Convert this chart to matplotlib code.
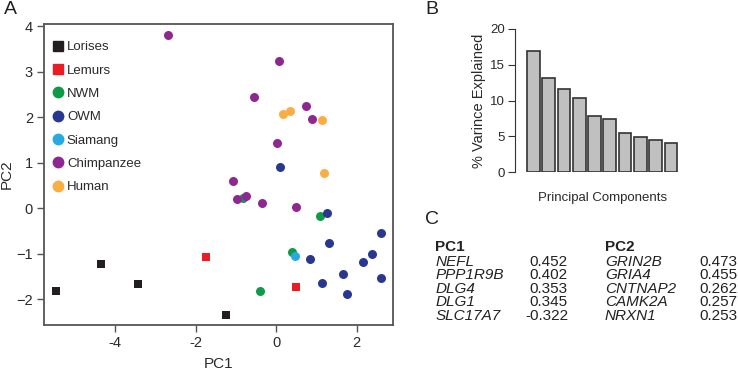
import matplotlib
matplotlib.use('Agg')
import matplotlib.pyplot as plt
from matplotlib.lines import Line2D

plt.rcParams['font.family'] = ['Liberation Sans', 'DejaVu Sans']

# ---- panel A data (PC1, PC2 scores per group)
groups = ['Lorises', 'Lemurs', 'NWM', 'OWM', 'Siamang', 'Chimpanzee', 'Human']
colors = ['#231f20', '#ec1c24', '#0f9a48', '#283891', '#27aae1', '#8e278f', '#fbad45']
markers = ['s', 's', 'o', 'o', 'o', 'o', 'o']

lorises_pc1 = [-5.45, -4.34, -3.43, -1.25]
lorises_pc2 = [-1.82, -1.21, -1.67, -2.34]
lemurs_pc1 = [-1.73, 0.50]
lemurs_pc2 = [-1.06, -1.73]
nwm_pc1 = [-0.83, 1.08, 0.39, -0.40]
nwm_pc2 = [0.22, -0.17, -0.96, -1.81]
owm_pc1 = [0.10, 1.27, 2.61, 1.32, 0.84, 2.38, 2.15, 1.67, 2.60, 1.14, 1.76]
owm_pc2 = [0.91, -0.09, -0.53, -0.76, -1.11, -0.99, -1.18, -1.45, -1.53, -1.64, -1.89]
siamang_pc1 = [0.46]
siamang_pc2 = [-1.04]
chimp_pc1 = [-2.69, 0.08, -0.54, 0.75, 0.90, 0.03, -1.07, -0.96, -0.74, -0.36, 0.50]
chimp_pc2 = [3.81, 3.23, 2.44, 2.24, 1.97, 1.43, 0.61, 0.20, 0.27, 0.13, 0.03]
human_pc1 = [0.17, 0.34, 1.13, 1.20]
human_pc2 = [2.08, 2.13, 1.95, 0.77]

# ---- panel B data
var_explained = [16.9, 13.1, 11.55, 10.4, 7.9, 7.45, 5.5, 4.9, 4.45, 4.1]

# ---- panel C data
pc1_genes = ['NEFL', 'PPP1R9B', 'DLG4', 'DLG1', 'SLC17A7']
pc1_loadings = ['0.452', '0.402', '0.353', '0.345', '-0.322']
pc2_genes = ['GRIN2B', 'GRIA4', 'CNTNAP2', 'CAMK2A', 'NRXN1']
pc2_loadings = ['0.473', '0.455', '0.262', '0.257', '0.253']

W, H = 738, 374
fig = plt.figure(figsize=(W / 100, H / 100), dpi=100)

def fx(px):
    return px / W

def fy(py):
    return 1 - py / H

spine_col = '#555555'
txt_col = '#2a2a2a'

# ---------------- A
ax = fig.add_axes([fx(44), fy(325), fx(393) - fx(44), fy(24) - fy(325)])
xs = [lorises_pc1, lemurs_pc1, nwm_pc1, owm_pc1, siamang_pc1, chimp_pc1, human_pc1]
ys = [lorises_pc2, lemurs_pc2, nwm_pc2, owm_pc2, siamang_pc2, chimp_pc2, human_pc2]
for x, y, c, m in zip(xs, ys, colors, markers):
    ax.scatter(x, y, c=c, marker=m, s=30 if m == 's' else 42, linewidths=0, zorder=3)
ax.set_xlim(-5.76, 2.9)
ax.set_ylim(-2.56, 4.05)
ax.set_xticks([-4, -2, 0, 2])
ax.set_yticks([-2, -1, 0, 1, 2, 3, 4])
ax.set_xticklabels(['-4', '-2', '0', '2'])
ax.tick_params(direction='out', length=5, width=1, color=spine_col, labelsize=10.5, pad=3,
               labelcolor=txt_col)
for s in ax.spines.values():
    s.set_color(spine_col)
    s.set_linewidth(1.3)
ax.set_xlabel('PC1', fontsize=11, color=txt_col, labelpad=5)
ax.set_ylabel('PC2', fontsize=11, color=txt_col, labelpad=2)

handles = [Line2D([], [], linestyle='none', marker=m, color=c, markersize=7.5 if m == 'o' else 6.5)
           for c, m in zip(colors, markers)]
ax.legend(handles, groups, loc='upper left', bbox_to_anchor=(0.007, 0.965), frameon=False,
          fontsize=9.5, handlelength=0.7, handletextpad=0.35, labelspacing=0.84, borderpad=0,
          labelcolor=txt_col)

fig.text(fx(4), fy(10), 'A', fontsize=14, va='center', ha='left', color='#222222')

# ---------------- B
bx = fig.add_axes([fx(515), fy(172.3), fx(690) - fx(515), fy(28.7) - fy(172.3)])
pos = list(range(len(var_explained)))
bx.bar(pos, var_explained, width=0.83, color='#c0c0c0', edgecolor='#333333', linewidth=1.2)
bx.set_xlim(-1.2, 10.24)
bx.set_ylim(0, 20)
bx.set_yticks([0, 5, 10, 15, 20])
bx.set_xticks([])
for k in ['top', 'right', 'bottom']:
    bx.spines[k].set_visible(False)
bx.spines['left'].set_color('#333333')
bx.tick_params(axis='y', direction='out', length=5, color='#333333', labelsize=9.5, pad=2,
               labelcolor=txt_col)
bx.set_ylabel('% Varince Explained', fontsize=10.5, color=txt_col, labelpad=3)
bx.set_xlabel('Principal Components', fontsize=9.5, color=txt_col, labelpad=14)

fig.text(fx(425), fy(10), 'B', fontsize=14, va='center', ha='left', color='#222222')

# ---------------- C
fig.text(fx(425), fy(220), 'C', fontsize=14, va='center', ha='left', color='#222222')
fs = 11
fig.text(fx(435), fy(247), 'PC1', fontsize=fs, fontweight='bold', va='center', color='#222222')
fig.text(fx(605), fy(247), 'PC2', fontsize=fs, fontweight='bold', va='center', color='#222222')
for i in range(len(pc1_genes)):
    yy = fy(261.7 + i * 13.6)
    fig.text(fx(436), yy, pc1_genes[i], fontsize=fs, style='italic', va='center', color='#222222')
    fig.text(fx(568), yy, pc1_loadings[i], fontsize=fs, va='center', ha='right', color='#222222')
    fig.text(fx(605), yy, pc2_genes[i], fontsize=fs, style='italic', va='center', color='#222222')
    fig.text(fx(737), yy, pc2_loadings[i], fontsize=fs, va='center', ha='right', color='#222222')

fig.savefig('out.png', dpi=100)
